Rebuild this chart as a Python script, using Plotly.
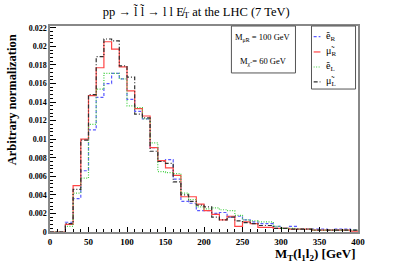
import plotly.graph_objects as go

bin_edges = list(range(0, 410, 10))

eR = [0, 0, 0.00105, 0.0036, 0.0066, 0.0110, 0.0145, 0.0160, 0.0171, 0.0165,
      0.0143, 0.0130, 0.0122, 0.0091, 0.0077, 0.0078, 0.0057, 0.0033, 0.0031, 0.0023,
      0.0023, 0.0020, 0.0021, 0.0016, 0.0017, 0.0013, 0.0011, 0.0009, 0.0009, 0.0006,
      0.0004, 0.0006, 0.0003, 0.0003, 0.0003, 0.0003, 0.0002, 0.0003, 0.0003, 0.0002]
muR = [0, 0, 0.00083, 0.0050, 0.0100, 0.0147, 0.0177, 0.0205, 0.0197, 0.0178,
       0.0152, 0.0133, 0.0125, 0.0091, 0.0077, 0.0069, 0.0061, 0.0038, 0.0038, 0.0030,
       0.0023, 0.0019, 0.0013, 0.0017, 0.0006, 0.0011, 0.0009, 0.0005, 0.0005, 0.0004,
       0.0004, 0.0003, 0.0003, 0.0003, 0.0002, 0.0002, 0.0002, 0.0002, 0.0002, 0.0001]
eL = [0, 0, 0.0006, 0.0042, 0.0058, 0.0116, 0.0154, 0.0171, 0.0171, 0.0165,
      0.0136, 0.0134, 0.0122, 0.0096, 0.0065, 0.0064, 0.0063, 0.0042, 0.0035, 0.0027,
      0.0025, 0.0026, 0.0024, 0.0023, 0.0018, 0.0013, 0.0012, 0.0011, 0.0011, 0.0006,
      0.0004, 0.0004, 0.0003, 0.0003, 0.0002, 0.0002, 0.0002, 0.0002, 0.0002, 0.0002]
muL = [0, 0, 0.0009, 0.0046, 0.0099, 0.0148, 0.0189, 0.0208, 0.0206, 0.0179,
       0.0167, 0.0127, 0.0123, 0.0087, 0.0076, 0.0074, 0.0054, 0.0040, 0.0033, 0.0029,
       0.0027, 0.0016, 0.0013, 0.0016, 0.0012, 0.0010, 0.0009, 0.0007, 0.0007, 0.0004,
       0.0004, 0.0003, 0.0003, 0.0003, 0.0002, 0.0002, 0.0002, 0.0002, 0.0002, 0.0002]

names = ["ẽ<sub>R</sub>", "μ̃<sub>R</sub>", "ẽ<sub>L</sub>", "μ̃<sub>L</sub>"]
values = [eR, muR, eL, muL]
colors = ["#5a5aff", "#ff4545", "#45d045", "#303030"]
dashes = ["3px,2px", "solid", "1px,1.5px", "4px,2px,1px,2px"]

y_ticks = [0, 0.002, 0.004, 0.006, 0.008, 0.01, 0.012, 0.014, 0.016, 0.018, 0.02, 0.022]
y_ticktext = ["0", "0.002", "0.004", "0.006", "0.008", "0.01", "0.012",
              "0.014", "0.016", "0.018", "0.02", "0.022"]
x_ticks = [0, 50, 100, 150, 200, 250, 300, 350, 400]

FONT = "Liberation Serif"

fig = go.Figure()
for name, vals, col, dash in zip(names, values, colors, dashes):
    fig.add_trace(go.Scatter(
        x=bin_edges, y=vals + [vals[-1]], mode="lines", name=name,
        line=dict(color=col, width=1.2, dash=dash, shape="hv"),
        showlegend=False,
    ))

shapes = []
annotations = []

# custom legend box (ROOT-style)
leg_x0, leg_x1, leg_y0, leg_y1 = 0.849, 0.992, 0.694, 1.0
shapes.append(dict(type="rect", xref="paper", yref="paper", x0=leg_x0, x1=leg_x1,
                   y0=leg_y0, y1=leg_y1, line=dict(color="#555555", width=1),
                   fillcolor="white", layer="above"))
entry_y = [0.948, 0.874, 0.801, 0.729]
for name, col, dash, ey in zip(names, colors, dashes, entry_y):
    shapes.append(dict(type="line", xref="paper", yref="paper", x0=0.856, x1=0.878,
                       y0=ey, y1=ey, line=dict(color=col, width=1.2, dash=dash),
                       layer="above"))
    annotations.append(dict(text=name, xref="paper", yref="paper", x=0.888, y=ey,
                            xanchor="left", yanchor="middle", showarrow=False,
                            font=dict(family=FONT, size=10, color="black")))

# mass info box
shapes.append(dict(type="rect", xref="paper", yref="paper", x0=0.589, x1=0.797,
                   y0=0.772, y1=1.0, line=dict(color="#555555", width=1),
                   fillcolor="white", layer="above"))
annotations.append(dict(text="M<sub>μ̃R</sub> = 100 GeV", xref="paper", yref="paper",
                        x=0.693, y=0.945, xanchor="center", yanchor="middle",
                        showarrow=False, font=dict(family=FONT, size=8.5, color="black")))
annotations.append(dict(text="M<sub>χ̃</sub> = 60 GeV", xref="paper", yref="paper",
                        x=0.693, y=0.827, xanchor="center", yanchor="middle",
                        showarrow=False, font=dict(family=FONT, size=8.5, color="black")))

# axis titles
annotations.append(dict(text="<b>Arbitrary normalization</b>", xref="paper", yref="paper",
                        x=-0.123, y=0.64, xanchor="center", yanchor="middle", textangle=-90,
                        showarrow=False, font=dict(family=FONT, size=12.5, color="black")))
annotations.append(dict(text="<b>M<sub>T</sub>(l<sub>1</sub>l<sub>2</sub>) [GeV]</b>",
                        xref="paper", yref="paper", x=1.0, y=-0.058,
                        xanchor="right", yanchor="top", showarrow=False,
                        font=dict(family=FONT, size=13, color="black")))

fig.update_layout(
    width=399, height=270,
    margin=dict(l=50, r=41, t=26, b=38),
    paper_bgcolor="white", plot_bgcolor="white",
    font=dict(family=FONT, color="black"),
    showlegend=False,
    title=dict(
        text="pp → l̃ l̃ → l l E̸<sub>T</sub> at the LHC (7 TeV)",
        xref="paper", x=0.475, xanchor="center", y=0.975, yanchor="top",
        font=dict(family=FONT, size=12.5, color="black"),
    ),
    xaxis=dict(
        range=[0, 400], tickvals=x_ticks,
        ticks="inside", ticklen=5, tickwidth=1, tickcolor="black",
        minor=dict(dtick=10, ticks="inside", ticklen=3, tickcolor="black"),
        showgrid=False, zeroline=False,
        showline=True, linecolor="#888888", linewidth=1.5, mirror=True,
        tickfont=dict(family=FONT, size=9, color="black", weight="bold"),
    ),
    yaxis=dict(
        range=[0, 0.0222], tickvals=y_ticks, ticktext=y_ticktext,
        ticks="inside", ticklen=6, tickwidth=1, tickcolor="black",
        minor=dict(dtick=0.0004, ticks="inside", ticklen=3, tickcolor="black"),
        showgrid=False, zeroline=False,
        showline=True, linecolor="#888888", linewidth=1.5, mirror=True,
        tickfont=dict(family=FONT, size=8, color="black", weight="bold"),
    ),
    shapes=shapes,
    annotations=annotations,
)

fig.write_html("out.html", config={"displayModeBar": False},
               post_script="document.body.style.margin='0';")
